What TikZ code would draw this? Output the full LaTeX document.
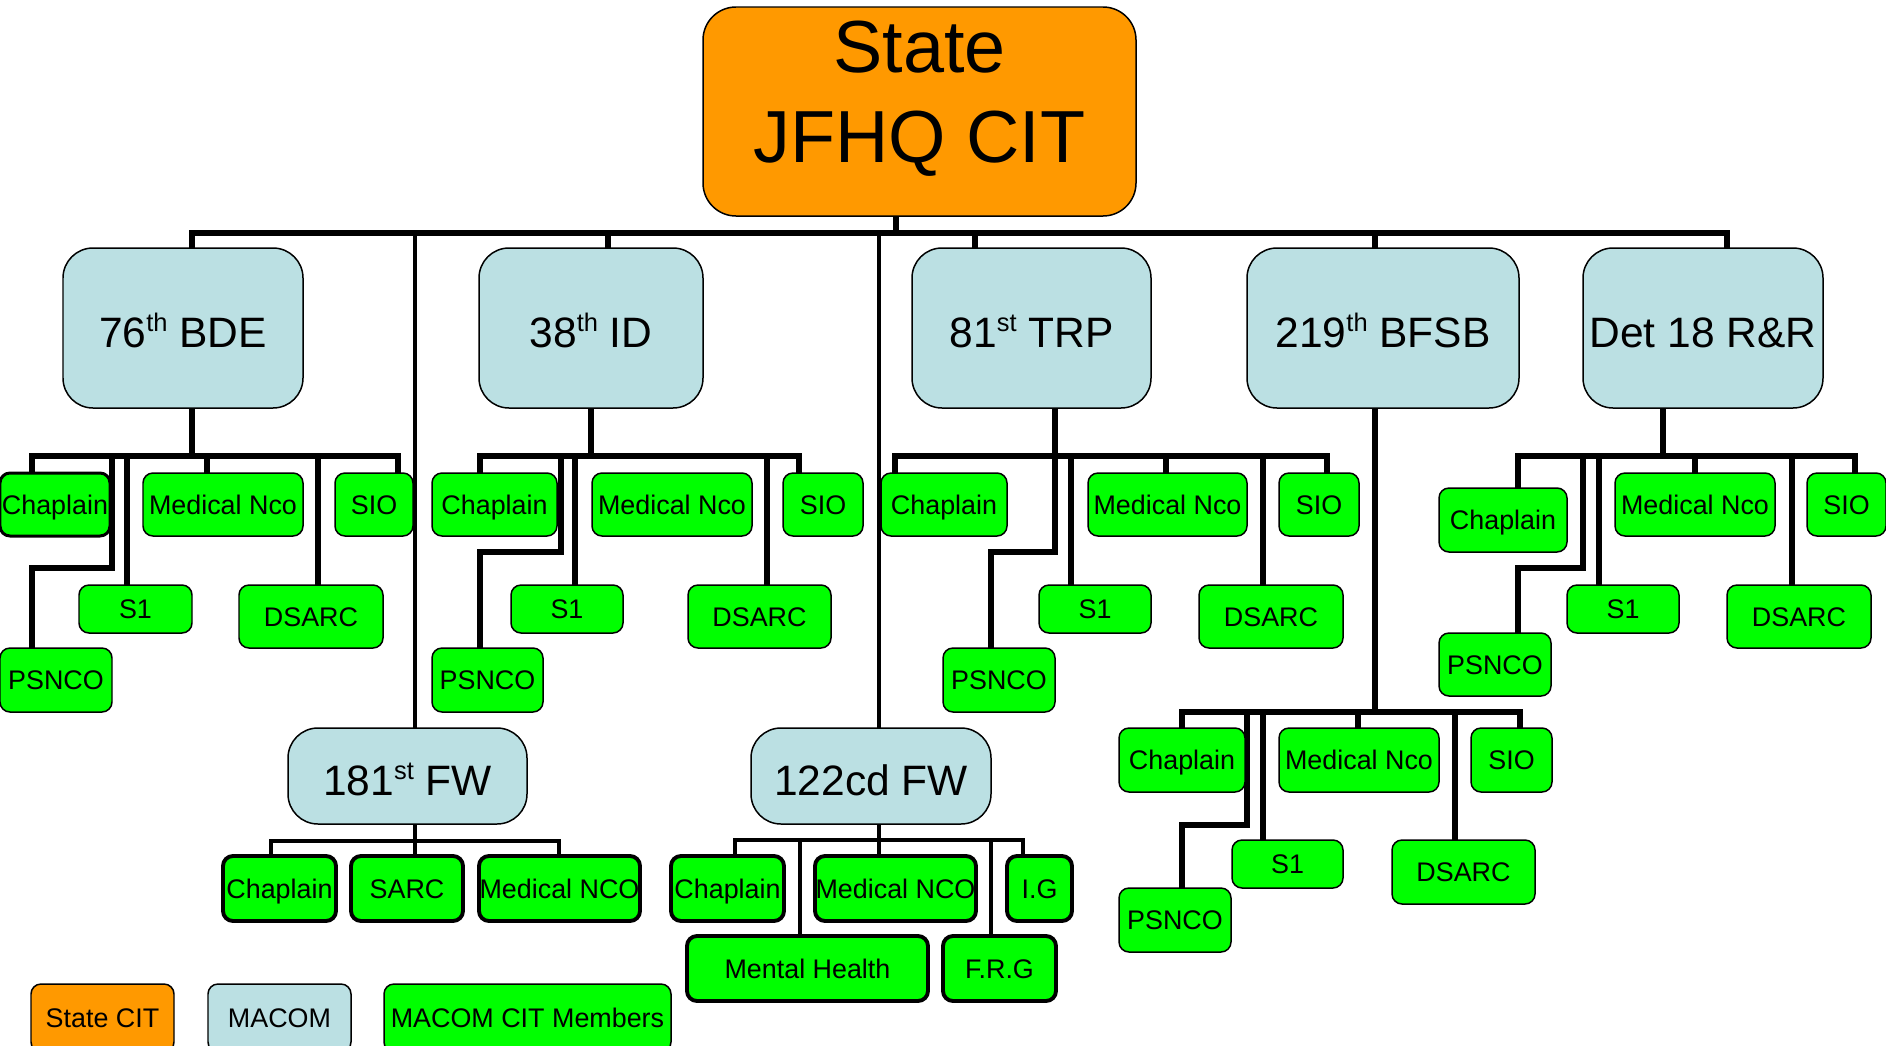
\documentclass[tikz,border=0pt]{standalone}
\usepackage{fontspec}
\setmainfont{Liberation Sans}
\usetikzlibrary{backgrounds}
\definecolor{orangec}{HTML}{FF9900}
\definecolor{macomc}{HTML}{BBE0E3}
\definecolor{greenc}{HTML}{00FF00}
\def\pxu{0.02cm}
\newcommand\supx[1]{\raisebox{8.8pt}{\fontsize{14.5}{15}\selectfont #1}}
\newcommand\obox[7]{\node[#1, minimum width={(#5-#3)*\pxu}, minimum height={(#6-#4)*\pxu}] (#2) at ({(#3+#5)/2},{(#4+#6)/2}) {#7};}
\newcommand\drop[5]{\coordinate (#2) at (#3,#4); \draw[#1] (#2) -- (#2 |- #5.north);}
\tikzset{
  base/.style={draw=black, inner sep=0pt, outer sep=0pt, align=center, line width=0.85pt},
  mem/.style={base, fill=greenc, rounded corners=0.2cm, font=\fontsize{15.3}{18}\selectfont, text height=11pt, text depth=0pt},
  memmid/.style={mem, line width=1.7pt},
  memthick/.style={mem, line width=2.2pt},
  macom/.style={base, fill=macomc, rounded corners=0.6cm, font=\fontsize{24.2}{28}\selectfont, text height=21.9pt, text depth=0pt},
  statebox/.style={base, fill=orangec, rounded corners=0.66cm},
  legs/.style={mem, fill=orangec},
  legm/.style={mem, fill=macomc},
  bus/.style={line width=3.8pt, line cap=rect, line join=miter},
  lnk/.style={line width=3.2pt, line cap=rect, line join=miter},
  thinl/.style={line width=1.8pt, line cap=rect, line join=miter},
}
\begin{document}
\begin{tikzpicture}[x=0.02cm, y=-0.02cm]
\useasboundingbox (0,0) rectangle (1886,1045);
% ---- top
\obox{statebox}{state}{703}{7}{1136}{216}{}
\node[font=\fontsize{42}{51}\selectfont, align=center, inner sep=0pt] (statetxt) at (919.5,99) {State\\JFHQ CIT};
% ---- MACOM boxes
\obox{macom}{b76}{63}{248}{303}{408}{76\supx{th} BDE}
\obox{macom}{b38}{479}{248}{703}{408}{38\supx{th} ID}
\obox{macom}{b81}{912}{248}{1151}{408}{81\supx{st} TRP}
\obox{macom}{b219}{1247}{248}{1519}{408}{219\supx{th} BFSB}
\obox{macom}{bdet}{1583}{248}{1823}{408}{Det 18 R\&R}
\obox{macom}{b181}{288}{728}{527}{824}{181\supx{st} FW}
\obox{macom}{b122}{751}{728}{991}{824}{122cd FW}
% ---- 76th
\obox{memmid}{c76ch}{0}{473}{110}{536}{Chaplain}
\obox{mem}{c76ps}{0}{648}{112}{712}{PSNCO}
\obox{mem}{c76s1}{79}{585}{192}{633}{S1}
\obox{mem}{c76md}{143}{473}{303}{536}{Medical Nco}
\obox{mem}{c76ds}{239}{585}{383}{648}{DSARC}
\obox{mem}{c76si}{335}{473}{413}{536}{SIO}
% ---- 38th
\obox{mem}{c38ch}{432}{473}{557}{536}{Chaplain}
\obox{mem}{c38ps}{432}{648}{543}{712}{PSNCO}
\obox{mem}{c38s1}{511}{585}{623}{633}{S1}
\obox{mem}{c38md}{592}{473}{752}{536}{Medical Nco}
\obox{mem}{c38ds}{688}{585}{831}{648}{DSARC}
\obox{mem}{c38si}{783}{473}{863}{536}{SIO}
% ---- 81st
\obox{mem}{c81ch}{881}{473}{1007}{536}{Chaplain}
\obox{mem}{c81ps}{943}{648}{1055}{712}{PSNCO}
\obox{mem}{c81s1}{1039}{585}{1151}{633}{S1}
\obox{mem}{c81md}{1088}{473}{1247}{536}{Medical Nco}
\obox{mem}{c81ds}{1199}{585}{1343}{648}{DSARC}
\obox{mem}{c81si}{1279}{473}{1359}{536}{SIO}
% ---- 219th
\obox{mem}{c219ch}{1119}{728}{1245}{792}{Chaplain}
\obox{mem}{c219ps}{1119}{888}{1231}{952}{PSNCO}
\obox{mem}{c219s1}{1232}{840}{1343}{888}{S1}
\obox{mem}{c219md}{1279}{728}{1439}{792}{Medical Nco}
\obox{mem}{c219ds}{1392}{840}{1535}{904}{DSARC}
\obox{mem}{c219si}{1471}{728}{1552}{792}{SIO}
% ---- Det 18
\obox{mem}{cdch}{1439}{488}{1567}{552}{Chaplain}
\obox{mem}{cdps}{1439}{633}{1551}{696}{PSNCO}
\obox{mem}{cds1}{1567}{585}{1679}{633}{S1}
\obox{mem}{cdmd}{1615}{473}{1775}{536}{Medical Nco}
\obox{mem}{cdds}{1727}{585}{1871}{648}{DSARC}
\obox{mem}{cdsi}{1807}{473}{1886}{536}{SIO}
% ---- 181st FW
\obox{memthick}{f181ch}{223}{856}{336}{921}{Chaplain}
\obox{memthick}{f181sa}{351}{856}{463}{921}{SARC}
\obox{memthick}{f181md}{479}{856}{640}{921}{Medical NCO}
% ---- 122cd FW
\obox{memthick}{f122ch}{671}{856}{784}{921}{Chaplain}
\obox{memthick}{f122mh}{687}{936}{928}{1001}{Mental Health}
\obox{memthick}{f122md}{815}{856}{976}{921}{Medical NCO}
\obox{memthick}{f122fr}{943}{936}{1056}{1001}{F.R.G}
\obox{memthick}{f122ig}{1007}{856}{1072}{921}{I.G}
% ---- legend
\obox{legs}{lgs}{31}{984}{174}{1052}{State CIT}
\obox{legm}{lgm}{208}{984}{351}{1052}{MACOM}
\obox{mem}{lgc}{384}{984}{671}{1052}{MACOM CIT Members}

\begin{pgfonlayer}{background}
\fill[white] (0,0) rectangle (1886,1045);
% main bus
\coordinate (t76) at (192,233);
\coordinate (tdet) at (1727,233);
\coordinate (ttop) at (896,233);
\draw[bus] (t76 |- b76.north) -- (t76) -- (tdet) -- (tdet |- bdet.north);
\draw[lnk] (ttop |- state.south) -- (ttop);
\drop{lnk}{t38}{608}{233}{b38}
\drop{lnk}{t81}{975}{233}{b81}
\drop{lnk}{t219}{1375}{233}{b219}
\drop{thinl}{t181}{415}{233}{b181}
\drop{thinl}{t122}{879}{233}{b122}
% 76th
\coordinate (m76) at (192,456);
\coordinate (l76) at (32,456);
\coordinate (r76) at (398,456);
\draw[lnk] (b76.south -| m76) -- (m76);
\draw[lnk] (l76 |- c76ch.north) -- (l76) -- (r76) -- (r76 |- c76si.north);
\drop{lnk}{k76s1}{127}{456}{c76s1}
\drop{lnk}{k76md}{207}{456}{c76md}
\drop{lnk}{k76ds}{318}{456}{c76ds}
\coordinate (p76) at (112,456);
\coordinate (q76) at (112,568);
\draw[lnk] (p76) -- (q76) -| (l76 |- c76ps.north);
% 38th
\coordinate (m38) at (591,456);
\coordinate (l38) at (480,456);
\coordinate (r38) at (799,456);
\draw[lnk] (b38.south -| m38) -- (m38);
\draw[lnk] (l38 |- c38ch.north) -- (l38) -- (r38) -- (r38 |- c38si.north);
\drop{lnk}{k38s1}{575}{456}{c38s1}
\drop{lnk}{k38ds}{767}{456}{c38ds}
\coordinate (p38) at (561,456);
\coordinate (q38) at (561,552);
\draw[lnk] (p38) -- (q38) -| (l38 |- c38ps.north);
% 81st
\coordinate (m81) at (1055,456);
\coordinate (l81) at (895,456);
\coordinate (r81) at (1327,456);
\coordinate (q81) at (1055,552);
\coordinate (v81) at (991,552);
\draw[lnk] (b81.south -| m81) -- (m81) -- (q81) -- (v81) -- (v81 |- c81ps.north);
\draw[lnk] (l81 |- c81ch.north) -- (l81) -- (r81) -- (r81 |- c81si.north);
\drop{lnk}{k81s1}{1071}{456}{c81s1}
\drop{lnk}{k81md}{1166}{456}{c81md}
\drop{lnk}{k81ds}{1263}{456}{c81ds}
% 219th
\coordinate (m219) at (1375,712);
\coordinate (l219) at (1182,712);
\coordinate (r219) at (1520,712);
\draw[lnk] (b219.south -| m219) -- (m219);
\draw[lnk] (l219 |- c219ch.north) -- (l219) -- (r219) -- (r219 |- c219si.north);
\drop{lnk}{k219s1}{1263}{712}{c219s1}
\drop{lnk}{k219md}{1358}{712}{c219md}
\drop{lnk}{k219ds}{1455}{712}{c219ds}
\coordinate (p219) at (1247,712);
\coordinate (q219) at (1247,825);
\draw[lnk] (p219) -- (q219) -| (l219 |- c219ps.north);
% Det 18
\coordinate (mdet) at (1663,456);
\coordinate (ldet) at (1518,456);
\coordinate (rdet) at (1855,456);
\draw[lnk] (bdet.south -| mdet) -- (mdet);
\draw[lnk] (ldet |- cdch.north) -- (ldet) -- (rdet) -- (rdet |- cdsi.north);
\drop{lnk}{kds1}{1599}{456}{cds1}
\drop{lnk}{kdmd}{1695}{456}{cdmd}
\drop{lnk}{kdds}{1792}{456}{cdds}
\coordinate (pdet) at (1583,456);
\coordinate (qdet) at (1583,568);
\draw[lnk] (pdet) -- (qdet) -| (ldet |- cdps.north);
% 181st FW
\coordinate (m181) at (415,841);
\coordinate (l181) at (271,841);
\coordinate (r181) at (559,841);
\draw[thinl] (b181.south -| m181) -- (m181 |- f181sa.north);
\draw[thinl] (l181 |- f181ch.north) -- (l181) -- (r181) -- (r181 |- f181md.north);
% 122cd FW
\coordinate (m122) at (879,840);
\coordinate (l122) at (735,840);
\coordinate (r122) at (1023,840);
\draw[thinl] (b122.south -| m122) -- (m122 |- f122md.north);
\draw[thinl] (l122 |- f122ch.north) -- (l122) -- (r122) -- (r122 |- f122ig.north);
\drop{thinl}{k122mh}{800}{840}{f122mh}
\drop{thinl}{k122fr}{991}{840}{f122fr}
\end{pgfonlayer}
\end{tikzpicture}
\end{document}
